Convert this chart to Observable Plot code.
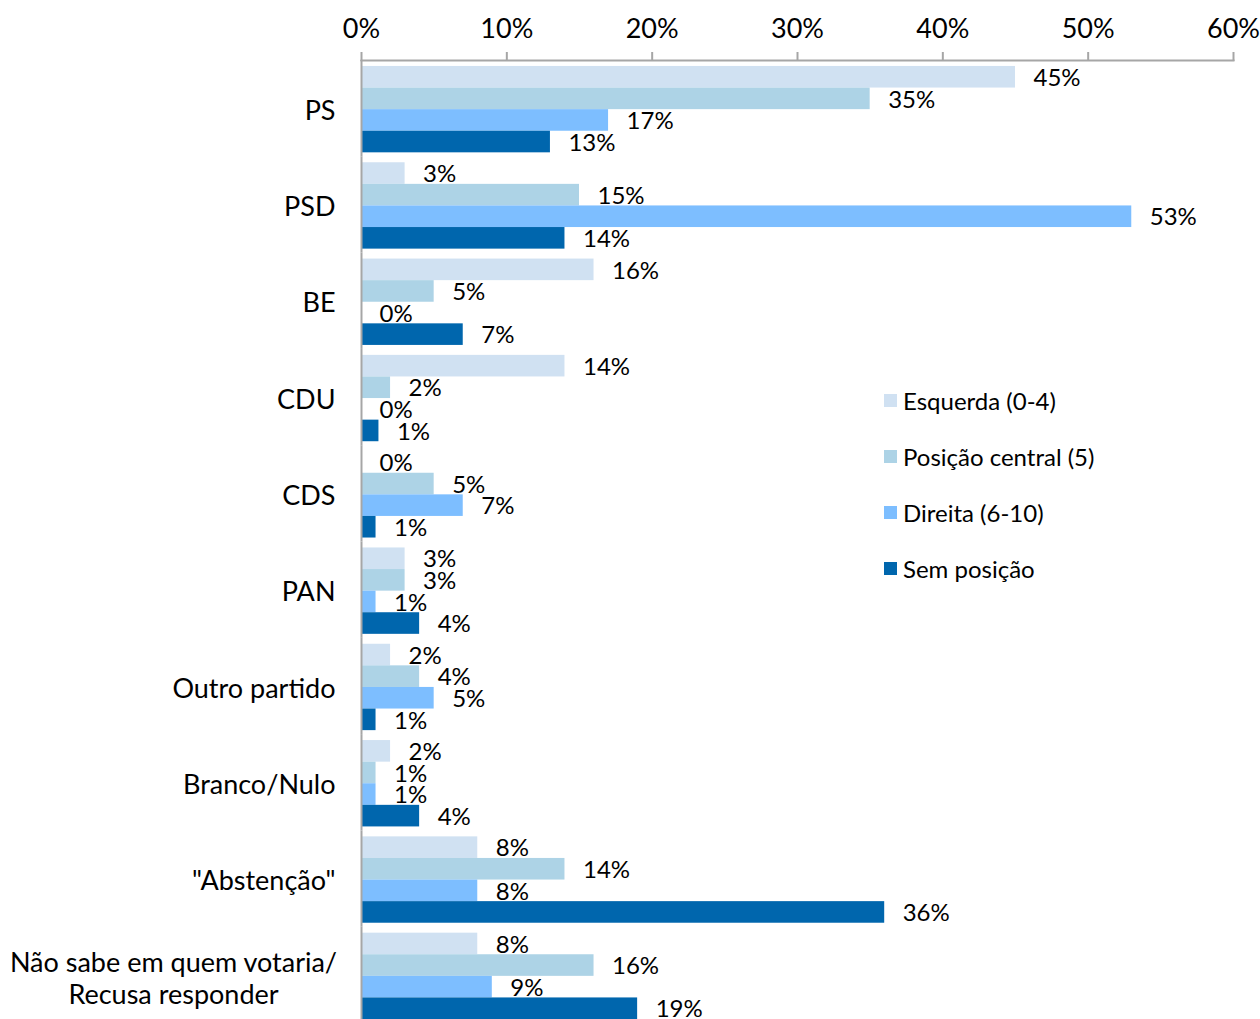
<!DOCTYPE html>
<html>
<head>
<meta charset="utf-8">
<script src="https://cdn.jsdelivr.net/npm/d3@7"></script>
<script src="https://cdn.jsdelivr.net/npm/@observablehq/plot@0.6"></script>
<style>
  html, body { margin: 0; padding: 0; background: #fff; overflow: hidden; }
  #wrap { position: relative; width: 1260px; height: 1019px; font-family: Lato, sans-serif; }
  #legend { position: absolute; left: 884px; top: 386px; }
  .row { display: flex; align-items: center; height: 28px; margin-bottom: 28px; font-size: 24px; color: #000; white-space: nowrap; }
  .sw { width: 13px; height: 13px; margin-right: 6px; }
</style>
</head>
<body>
<div id="wrap"><div id="legend"></div></div>
<script>
const partidos = ["PS", "PSD", "BE", "CDU", "CDS", "PAN", "Outro partido", "Branco/Nulo", "\"Abstenção\"", "Não sabe em quem votaria/\nRecusa responder"];
const series = ["Esquerda (0-4)", "Posição central (5)", "Direita (6-10)", "Sem posição"];
const cores = ["#d0e1f2", "#add3e6", "#7dbeff", "#0066ad"];
const esquerda = [45, 3, 16, 14, 0, 3, 2, 2, 8, 8];
const central  = [35, 15, 5, 2, 5, 3, 4, 1, 14, 16];
const direita  = [17, 53, 0, 0, 7, 1, 5, 1, 8, 9];
const semPos   = [13, 14, 7, 1.2, 1, 4, 1, 4, 36, 19];
const xTicks = [0, 10, 20, 30, 40, 50, 60];

const valores = [esquerda, central, direita, semPos];
const data = [];
partidos.forEach((p, i) => series.forEach((s, j) => data.push({partido: p, posicao: s, valor: valores[j][i]})));

const last = partidos[partidos.length - 1];

const chart = Plot.plot({
  width: 1260,
  height: 1023,
  marginTop: 60,
  marginLeft: 361,
  marginRight: 27,
  marginBottom: 0,
  style: {fontFamily: "Lato, sans-serif", background: "transparent", overflow: "visible"},
  x: {domain: [0, 60], axis: null},
  y: {domain: series, paddingInner: 0, paddingOuter: 0.23, align: 0.6, round: false, axis: null},
  fy: {domain: partidos, paddingInner: 0, paddingOuter: 0, round: false, axis: null},
  color: {domain: series, range: cores},
  marks: [
    Plot.barX(data, {x: "valor", y: "posicao", fy: "partido", fill: "posicao"}),
    Plot.text(data, {x: "valor", y: "posicao", fy: "partido", text: d => Math.round(d.valor) + "%", textAnchor: "start", dx: 18, dy: 1, fontSize: 24, fill: "#000"}),
    Plot.ruleX([0], {stroke: "#a6a6a6", strokeWidth: 2}),
    Plot.frame({anchor: "top", fy: [partidos[0]], stroke: "#a6a6a6", strokeWidth: 2}),
    Plot.axisX({anchor: "top", ticks: xTicks, tickFormat: d => d + "%", tickSize: 9, tickPadding: 14, fontSize: 27, stroke: "#a6a6a6", strokeWidth: 2, fill: "#000", label: null}),
    Plot.axisFy({anchor: "left", tickSize: 0, tickPadding: 26, fontSize: 27, dy: 2.5, label: null, fill: "#000", tickFormat: d => d === last ? "" : d}),
    Plot.text([last], {fy: d => d, text: d => d, frameAnchor: "left", textAnchor: "middle", dx: -188, dy: 2, fontSize: 27, lineHeight: 1.2, fill: "#000"})
  ]
});
document.getElementById("wrap").prepend(chart);

const legend = document.getElementById("legend");
series.forEach((s, j) => {
  const row = document.createElement("div");
  row.className = "row";
  row.innerHTML = `<div class="sw" style="background:${cores[j]}"></div><span>${s}</span>`;
  legend.appendChild(row);
});
</script>
</body>
</html>
